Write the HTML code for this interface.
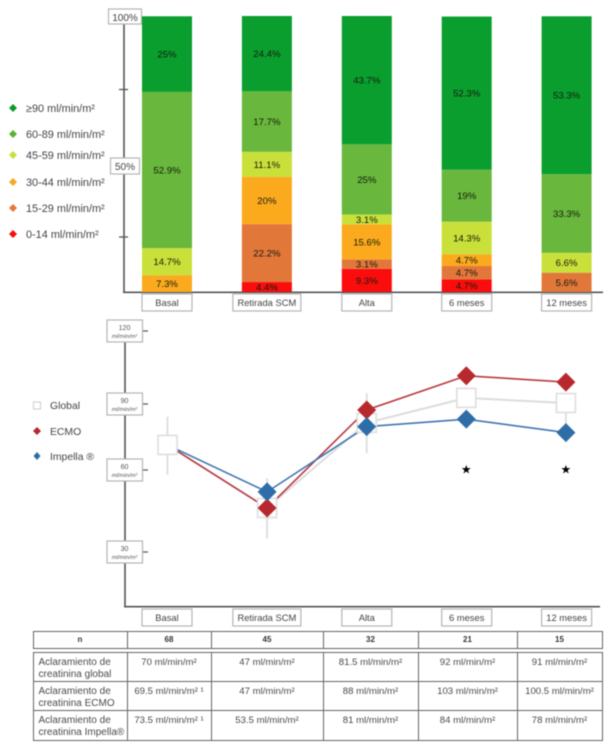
<!DOCTYPE html>
<html lang="es">
<head>
<meta charset="utf-8">
<title>Aclaramiento de creatinina</title>
<style>
html,body{margin:0;padding:0;background:#fff;width:611px;height:750px;overflow:hidden}
#page{position:relative;width:611px;height:750px;filter:blur(0.6px);font-family:"Liberation Sans",Arial,sans-serif;color:#444}
svg{position:absolute;left:0;top:0}
svg text{font-family:"Liberation Sans",Arial,sans-serif}
.box{fill:#fff;stroke:#b5b5b5;stroke-width:1.2}
.lbl{font-size:10px;fill:#444}
.lg{font-size:10.9px;fill:#444}
table{position:absolute;border-collapse:collapse;table-layout:fixed;left:32.5px;font-size:9.6px;color:#4a4a4a}
td{border:1px solid #666;text-align:center;vertical-align:top;padding:3.5px 1px 0;line-height:12px;box-sizing:border-box;overflow:hidden;white-space:nowrap}
#head-table td{font-weight:bold;font-size:8px;vertical-align:middle;padding:0;color:#333}
td.rowhead{text-align:left;padding-left:5px;font-size:10px}
</style>
</head>
<body>
<div id="page">
<svg id="chart" width="611" height="750" viewBox="0 0 611 750">
  <g>
    <g><polygon points="13,104 17,108 13,112 9,108" fill="#0a9a2e"/><text class="lg" x="26" y="112">≥90 ml/min/m²</text></g>
    <g><polygon points="13,130 17,134 13,138 9,134" fill="#5fae35"/><text class="lg" x="26" y="138">60-89 ml/min/m²</text></g>
    <g><polygon points="13,151 17,155 13,159 9,155" fill="#c6e03a"/><text class="lg" x="26" y="159">45-59 ml/min/m²</text></g>
    <g><polygon points="13,178 17,182 13,186 9,182" fill="#f7a81f"/><text class="lg" x="26" y="186">30-44 ml/min/m²</text></g>
    <g><polygon points="13,204 17,208 13,212 9,208" fill="#e8763a"/><text class="lg" x="26" y="212">15-29 ml/min/m²</text></g>
    <g><polygon points="13,230 17,234 13,238 9,234" fill="#f80d0d"/><text class="lg" x="26" y="238">0-14 ml/min/m²</text></g>
  </g>
  <g>
    <line x1="124" y1="24" x2="124" y2="292" stroke="#555" stroke-width="1.6"/>
    <line x1="123" y1="292.3" x2="603" y2="292.3" stroke="#555" stroke-width="1.6"/>
    <line x1="119" y1="89.5" x2="128" y2="89.5" stroke="#555" stroke-width="1.3"/>
    <line x1="119" y1="237" x2="128" y2="237" stroke="#555" stroke-width="1.3"/>
    <g><rect class="box" x="108.500" y="9" width="33" height="15"/><text class="lbl" x="125" y="21" text-anchor="middle" font-size="9">100%</text></g>
    <g><rect class="box" x="110.500" y="158" width="29" height="16"/><text class="lbl" x="125" y="170" text-anchor="middle" font-size="9">50%</text></g>
  </g>
  <g id="bars"></g>
  <g id="barCats"></g>

  <g>
    <g><rect x="33.500" y="402" width="7" height="7" fill="#fff" stroke="#ccc" stroke-width="1"/><text class="lbl" style="font-size:10.4px" x="50" y="409">Global</text></g>
    <g><polygon points="37,427 41,431 37,435 33,431" fill="#b5272d"/><text class="lbl" style="font-size:10.4px" x="50" y="435">ECMO</text></g>
    <g><polygon points="37,452 40.500,456 37,460 33.500,456" fill="#2e6da8"/><text class="lbl" style="font-size:10.4px" x="50" y="460">Impella ®</text></g>
  </g>
  <g>
    <line x1="125" y1="340" x2="125" y2="607" stroke="#555" stroke-width="1.6"/>
    <line x1="124" y1="606.700" x2="600" y2="606.700" stroke="#555" stroke-width="1.6"/>
  </g>
  <g id="lineTicks"></g>
  <g id="lineCats"></g>
  <g id="lines"></g>
</svg>

<table id="head-table" style="top:631px;height:17px;width:569px">
  <colgroup><col style="width:94px"><col style="width:84px"><col style="width:112px"><col style="width:95px"><col style="width:99px"><col style="width:85px"></colgroup>
  <tr style="height:17px"><td>n</td><td>68</td><td>45</td><td>32</td><td>21</td><td>15</td></tr>
</table>
<table style="top:652px;height:88px;width:569px">
  <colgroup><col style="width:94px"><col style="width:84px"><col style="width:112px"><col style="width:95px"><col style="width:99px"><col style="width:85px"></colgroup>
  <tr style="height:29px"><td class="rowhead">Aclaramiento de<br>creatinina global</td><td>70 ml/min/m²</td><td>47 ml/min/m²</td><td>81.5 ml/min/m²</td><td>92 ml/min/m²</td><td>91 ml/min/m²</td></tr>
  <tr style="height:29px"><td class="rowhead">Aclaramiento de<br>creatinina ECMO</td><td>69.5 ml/min/m² ¹</td><td>47 ml/min/m²</td><td>88 ml/min/m²</td><td>103 ml/min/m²</td><td>100.5 ml/min/m²</td></tr>
  <tr style="height:30px"><td class="rowhead">Aclaramiento de<br>creatinina Impella®</td><td>73.5 ml/min/m² ¹</td><td>53.5 ml/min/m²</td><td>81 ml/min/m²</td><td>84 ml/min/m²</td><td>78 ml/min/m²</td></tr>
</table>
</div>

<script>
// Categories
const categories = ['Basal', 'Retirada SCM', 'Alta', '6 meses', '12 meses'];

// Stacked bar heights (% of axis height), one array per class
const gfr90 = [27.4, 27.3, 46.5, 55.5, 57.2];
const gfr60 = [56.6, 21.9, 25.4, 18.8, 28.5];
const gfr45 = [9.8, 9.1, 3.6, 11.8, 7.2];
const gfr30 = [6.1, 17.1, 12.7, 4.3, 0];
const gfr15 = [0, 21.0, 3.4, 4.8, 7.0];
const gfr0 = [0, 3.6, 8.4, 4.6, 0];

// Printed bar labels
const label90 = ['25%', '24.4%', '43.7%', '52.3%', '53.3%'];
const label60 = ['52.9%', '17.7%', '25%', '19%', '33.3%'];
const label45 = ['14.7%', '11.1%', '3.1%', '14.3%', '6.6%'];
const label30 = ['7.3%', '20%', '15.6%', '4.7%', ''];
const label15 = ['', '22.2%', '3.1%', '4.7%', '5.6%'];
const label0 = ['', '4.4%', '9.3%', '4.7%', ''];

// Line chart series (ml/min/m2) as plotted
const globalSeries = [71.4, 46.1, 81.4, 92.5, 90.4];
const ecmoSeries = [71.4, 46.1, 87.3, 101.6, 99];
const impellaSeries = [71.4, 52, 79.7, 83.1, 77];
const globalHigh = [84.2, 57, 94.5, null, 90.4];
const globalLow = [58.2, 35, 67.7, null, 77];
const significant = [false, false, false, true, true];

// Line chart ticks
const yTickValues = [120, 90, 60, 30];

const NS = 'http://www.w3.org/2000/svg';
function add(parent, tag, attrs, text) {
  const el = document.createElementNS(NS, tag);
  for (const k in attrs) el.setAttribute(k, attrs[k]);
  if (text !== undefined) el.textContent = text;
  parent.appendChild(el);
  return el;
}

// Axis functions
function xBar(i) { return 167 + 99.9 * i; }
function yBar(v) { return 292 - 2.76 * v; }
function xLine(i) { return 167.5 + 99.6 * i; }
// The printed y axis is unevenly spaced: piecewise between its labelled ticks
function yLine(v) {
  if (v <= 60) return 470 + (60 - v) * (82 / 30);
  if (v <= 90) return 404 + (90 - v) * (66 / 30);
  return 331 + (120 - v) * (73 / 30);
}

// Stacked bars
const barLayers = [
  { key: '0-14', values: gfr0, labels: label0, color: '#fb0d0d' },
  { key: '15-29', values: gfr15, labels: label15, color: '#e2773a' },
  { key: '30-44', values: gfr30, labels: label30, color: '#fbaa1e' },
  { key: '45-59', values: gfr45, labels: label45, color: '#c9e03a' },
  { key: '60-89', values: gfr60, labels: label60, color: '#69b73c' },
  { key: '90-plus', values: gfr90, labels: label90, color: '#0a9e2e' }
];
const barsG = document.getElementById('bars');
const barCatsG = document.getElementById('barCats');
const lineCatsG = document.getElementById('lineCats');
categories.forEach(function (cat, i) {
  let acc = 0;
  barLayers.forEach(function (layer) {
    const v = layer.values[i];
    if (v > 0) {
      const seg = add(barsG, 'rect', { x: xBar(i) - 25, y: yBar(acc + v), width: 50, height: yBar(acc) - yBar(acc + v), fill: layer.color });
      
      
      if (layer.labels[i]) {
        const t = add(barsG, 'text', { x: xBar(i), y: (yBar(acc) + yBar(acc + v)) / 2 + 3.5, 'text-anchor': 'middle', 'font-size': '9.6', fill: '#141c0c' }, layer.labels[i]);
        
        
      }
    }
    acc += v;
  });

  const w = cat.length > 8 ? 68 : 50;
  [[barCatsG, 294, 'bar-category-label'], [lineCatsG, 609, 'line-category-label']].forEach(function (cfg) {
    const g = add(cfg[0], 'g', {});
    
    
    add(g, 'rect', { class: 'box', x: xBar(i) - w / 2, y: cfg[1], width: w, height: 17 });
    add(g, 'text', { x: xBar(i), y: cfg[1] + 12, 'text-anchor': 'middle', 'font-size': '9.4', fill: '#444' }, cat);
  });
});

// Line chart y ticks
const ticksG = document.getElementById('lineTicks');
yTickValues.forEach(function (v) {
  const y = yLine(v);
  const g = add(ticksG, 'g', {});
  
  
  add(g, 'line', { x1: 143, y1: y, x2: 148, y2: y, stroke: '#555', 'stroke-width': 1.2 });
  add(g, 'rect', { class: 'box', x: 107, y: y - 11, width: 35.5, height: 22 });
  add(g, 'text', { x: 124.5, y: y - 1, 'text-anchor': 'middle', 'font-size': '7', fill: '#555' }, String(v));
  add(g, 'text', { x: 124.5, y: y + 7, 'text-anchor': 'middle', 'font-size': '5.8', 'font-style': 'italic', fill: '#555' }, 'ml/min/m²');
});

// Line chart series
const linesG = document.getElementById('lines');
function linePoints(values) {
  return values.map(function (v, i) { return xLine(i) + ',' + yLine(v); }).join(' ');
}
const lineGlobal = add(linesG, 'polyline', { points: linePoints(globalSeries), fill: 'none', stroke: '#dcdcdc', 'stroke-width': 2 });


const lineEcmo = add(linesG, 'polyline', { points: linePoints(ecmoSeries), fill: 'none', stroke: '#b93a40', 'stroke-width': 1.6 });


const lineImpella = add(linesG, 'polyline', { points: linePoints(impellaSeries), fill: 'none', stroke: '#4077b0', 'stroke-width': 1.6 });



globalHigh.forEach(function (hi, i) {
  if (hi === null) return;
  const e = add(linesG, 'line', { x1: xLine(i), y1: yLine(hi), x2: xLine(i), y2: yLine(globalLow[i]), stroke: '#e0e0e0', 'stroke-width': 2 });
  
  
});

function square(i) {
  const x = xLine(i), y = yLine(globalSeries[i]);
  const s = add(linesG, 'rect', { x: x - 9.5, y: y - 9.5, width: 19, height: 19, fill: '#fff', stroke: '#dedede', 'stroke-width': 1.6 });
  
  
}
function diamond(i, v, color, name) {
  const x = xLine(i), y = yLine(v), r = 9.5;
  const d = add(linesG, 'polygon', { points: x + ',' + (y - r) + ' ' + (x + r) + ',' + y + ' ' + x + ',' + (y + r) + ' ' + (x - r) + ',' + y, fill: color });
  
  
}
categories.forEach(function (c, i) { if (i > 0) square(i); });
categories.forEach(function (c, i) {
  diamond(i, ecmoSeries[i], '#b8292f', 'point-ecmo');
  diamond(i, impellaSeries[i], '#2e6da8', 'point-impella');
});
square(0);

significant.forEach(function (flag, i) {
  if (!flag) return;
  const st = add(linesG, 'text', { x: xLine(i), y: 473.5, 'text-anchor': 'middle', 'font-size': '12', fill: '#000', style: 'font-family:"DejaVu Sans",sans-serif' }, '★');
  
  
});
</script>
</body>
</html>
